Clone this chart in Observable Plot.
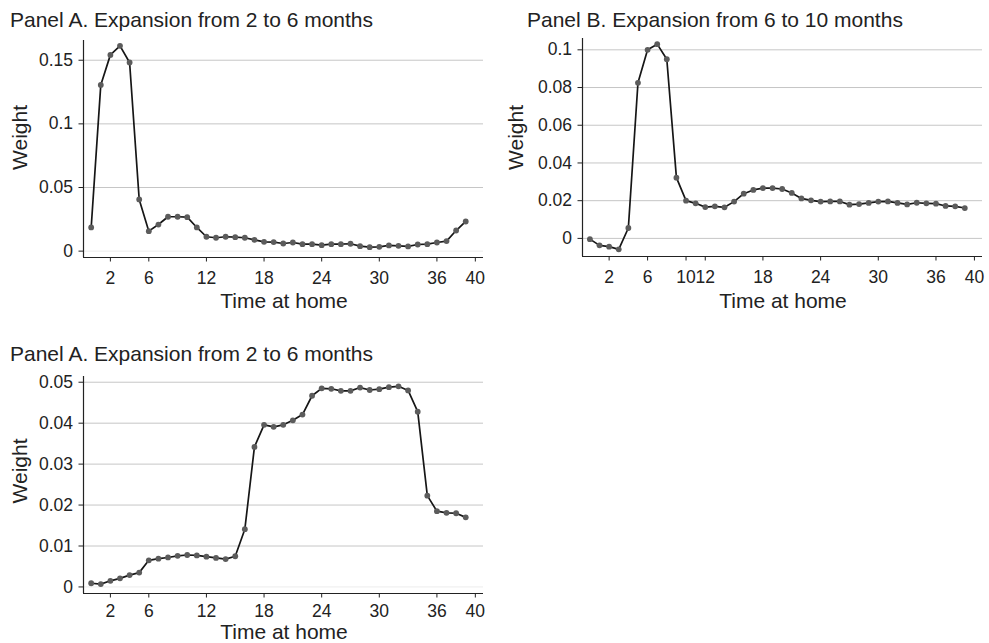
<!DOCTYPE html>
<html>
<head>
<meta charset="utf-8">
<script src="https://cdn.jsdelivr.net/npm/d3@7"></script>
<script src="https://cdn.jsdelivr.net/npm/@observablehq/plot@0.6"></script>
<style>
  html, body { margin: 0; padding: 0; background: #fff; }
  #root { position: relative; width: 989px; height: 643px; overflow: hidden; background: #fff;
          font-family: "Liberation Sans", Arial, Helvetica, sans-serif; color: #222; }
  .panel { position: absolute; }
  #overlay { position: absolute; left: 0; top: 0; pointer-events: none; }
</style>
</head>
<body>
<div id="root"></div>
<script>
// ---- Data ----
const months = [0,1,2,3,4,5,6,7,8,9,10,11,12,13,14,15,16,17,18,19,20,21,22,23,24,25,26,27,28,29,30,31,32,33,34,35,36,37,38,39];

const weightsA = [0.0186,0.1306,0.1542,0.1613,0.1482,0.0406,0.0157,0.0209,0.0270,0.0270,
                  0.0267,0.0186,0.0113,0.0105,0.0113,0.0110,0.0105,0.0089,0.0073,0.0071,
                  0.0060,0.0068,0.0055,0.0055,0.0047,0.0055,0.0055,0.0058,0.0039,0.0031,
                  0.0034,0.0045,0.0042,0.0037,0.0052,0.0055,0.0068,0.0079,0.0162,0.0233];

const weightsB = [-0.0004,-0.0037,-0.0044,-0.0058,0.0055,0.0825,0.1000,0.1030,0.0950,0.0322,
                  0.0200,0.0186,0.0166,0.0170,0.0165,0.0195,0.0237,0.0257,0.0267,0.0267,
                  0.0262,0.0241,0.0212,0.0202,0.0195,0.0196,0.0196,0.0179,0.0182,0.0188,
                  0.0195,0.0196,0.0188,0.0180,0.0189,0.0186,0.0184,0.0172,0.0170,0.0161];

const weightsC = [0.0009,0.0007,0.0015,0.0021,0.0029,0.0035,0.0065,0.0069,0.0072,0.0076,
                  0.0078,0.0077,0.0074,0.0071,0.0068,0.0075,0.0141,0.0342,0.0396,0.0391,
                  0.0396,0.0407,0.0421,0.0467,0.0485,0.0484,0.0479,0.0479,0.0487,0.0481,
                  0.0483,0.0488,0.0490,0.0480,0.0428,0.0223,0.0185,0.0181,0.0180,0.0170];

const xTicksA = [2,6,12,18,24,30,36,40];
const xTicksB = [2,6,10,12,18,24,30,36,40];
const xTicksC = [2,6,12,18,24,30,36,40];

const yTicksA = [0,0.05,0.1,0.15];
const yTicksB = [0,0.02,0.04,0.06,0.08,0.1];
const yTicksC = [0,0.01,0.02,0.03,0.04,0.05];

const titles = ["Panel A. Expansion from 2 to 6 months",
                "Panel B. Expansion from 6 to 10 months",
                "Panel A. Expansion from 2 to 6 months"];
const xLabel = "Time at home";
const yLabel = "Weight";

// ---- Drawing ----
const root = document.getElementById("root");
const FONT = '"Liberation Sans", Arial, Helvetica, sans-serif';

function panel({values, xTicks, yTicks, xDomain, yDomain, left, top, width, height,
                mTop, mRight, mBottom, mLeft, lightZero, xPad}) {
  const data = months.map((m, i) => ({m, w: values[i]}));
  const nonZero = yTicks.filter(t => t !== 0);
  const p = Plot.plot({
    width, height,
    marginTop: mTop, marginRight: mRight, marginBottom: mBottom, marginLeft: mLeft,
    x: {domain: xDomain},
    y: {domain: yDomain},
    style: {fontSize: "17.5px", fontFamily: FONT, color: "#222", background: "transparent", overflow: "visible"},
    marks: [
      Plot.gridY(nonZero, {stroke: "#c6c6c6", strokeOpacity: 1, strokeWidth: 1}),
      Plot.gridY([0], {stroke: lightZero ? "#ececec" : "#c6c6c6", strokeOpacity: 1, strokeWidth: 1}),
      Plot.ruleX([xDomain[0]], {stroke: "#222", strokeWidth: 1.2}),
      Plot.ruleY([yDomain[0]], {stroke: "#222", strokeWidth: 1.2}),
      Plot.axisY(yTicks, {tickSize: 4.5, tickPadding: 6, tickFormat: d => String(d), label: null, stroke: "#222"}),
      Plot.axisX(xTicks, {tickSize: 4.5, tickPadding: xPad, tickFormat: d => String(d), label: null, stroke: "#222"}),
      Plot.line(data, {x: "m", y: "w", stroke: "#161616", strokeWidth: 1.7}),
      Plot.dot(data, {x: "m", y: "w", r: 2.9, fill: "#5c5c5c", stroke: "none"})
    ]
  });
  p.classList.add("panel");
  p.style.left = left + "px";
  p.style.top = top + "px";
  root.appendChild(p);
}

panel({values: weightsA, xTicks: xTicksA, yTicks: yTicksA,
       xDomain: [-0.8, 40.85], yDomain: [-0.005, 0.1655],
       left: 0, top: 0, width: 490, height: 320,
       mTop: 40, mRight: 7, mBottom: 63, mLeft: 83, lightZero: true, xPad: 9.5});

panel({values: weightsB, xTicks: xTicksB, yTicks: yTicksB,
       xDomain: [-0.77, 40.84], yDomain: [-0.0096, 0.106],
       left: 495, top: 0, width: 494, height: 320,
       mTop: 38, mRight: 7, mBottom: 64, mLeft: 87, lightZero: false, xPad: 9.5});

panel({values: weightsC, xTicks: xTicksC, yTicks: yTicksC,
       xDomain: [-0.8, 40.85], yDomain: [-0.0016, 0.0514],
       left: 0, top: 330, width: 490, height: 313,
       mTop: 46, mRight: 7, mBottom: 50, mLeft: 83, lightZero: true, xPad: 7});

// ---- Text overlay: titles and axis titles ----
const svg = d3.select(root).append("svg")
  .attr("id", "overlay").attr("width", 989).attr("height", 643)
  .style("font-family", FONT).style("fill", "#222");

const titlePos = [[10, 27], [527, 27], [10, 361]];
titles.forEach((t, i) => {
  svg.append("text").attr("x", titlePos[i][0]).attr("y", titlePos[i][1])
    .attr("font-size", 21).text(t);
});

const xLabelPos = [[284, 308], [783, 308], [284, 639]];
xLabelPos.forEach(([x, y]) => {
  svg.append("text").attr("x", x).attr("y", y).attr("text-anchor", "middle")
    .attr("font-size", 21).text(xLabel);
});

const yLabelPos = [[27, 137.5], [523, 137.5], [27, 471]];
yLabelPos.forEach(([x, y]) => {
  svg.append("text").attr("transform", `translate(${x},${y}) rotate(-90)`)
    .attr("text-anchor", "middle").attr("font-size", 21).text(yLabel);
});
</script>
</body>
</html>
